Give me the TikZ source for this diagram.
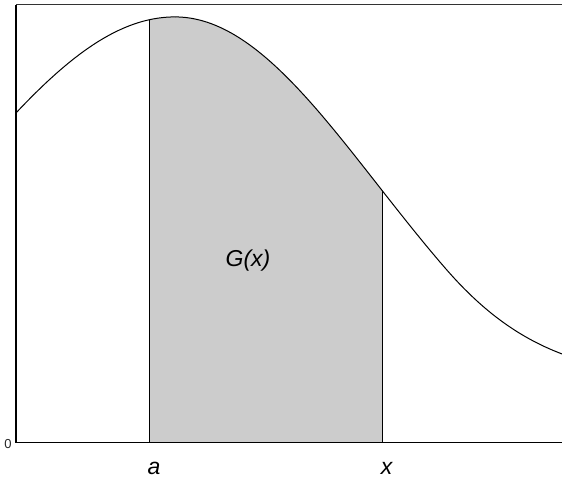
\documentclass[tikz,border=0pt]{standalone}
\usepackage{fontspec}
\setmainfont{Liberation Sans}
\definecolor{areagray}{HTML}{CCCCCC}
\definecolor{topgray}{HTML}{333333}
\tikzset{
  axisline/.style={line width=1.3pt, black},
  leftaxis/.style={line width=2pt, black},
  topline/.style={line width=1.5pt, topgray},
  curveline/.style={line width=1pt, black},
  boundline/.style={line width=1pt, black},
  biglabel/.style={font=\fontsize{23}{27}\selectfont\itshape, inner sep=0pt},
  smalllabel/.style={font=\fontsize{13}{15}\selectfont, inner sep=0pt, text=black!85},
}
\begin{document}
\begin{tikzpicture}[x=1pt,y=-1pt,
  declare function={
    sv(\t)=(\t<175) ? 4.95 : (4.1+0.5*(max(0,(\t-445)/100))^2);
    gy(\t)=443-426*exp(-((\t-175)/100)^2/(2*sv(\t)));
  }]
\useasboundingbox (0,0) rectangle (562,479);
% shaded area
\coordinate (abot) at (149,442.7);
\coordinate (xbot) at (382.3,442.7);
\coordinate (atop) at (149,{gy(149)});
\coordinate (xtop) at (382.3,{gy(382.3)});
\fill[areagray] (abot) -- plot[domain=149:382.3, samples=150, variable=\t] (\t,{gy(\t)}) -- (xbot) -- cycle;
% curve
\draw[curveline] plot[domain=16:562, samples=350, variable=\t] (\t,{gy(\t)});
% bounds
\draw[boundline] (abot) -- (atop);
\draw[boundline] (xbot) -- (xtop);
% frame
\coordinate (o) at (16,442.7);
\coordinate (tl) at (16,4.7);
\coordinate (tr) at (562,4.7);
\coordinate (br) at (562,442.7);
\draw[topline] (tl) -- (tr);
\draw[axisline] (o) -- (br);
\draw[leftaxis] (o) -- (tl);
% labels
\node[biglabel, anchor=base] (la) at (154,474) {a};
\node[biglabel, anchor=base] (lx) at (386.5,474) {x};
\node[biglabel, anchor=base] (lg) at (248,266.7) {G(x)};
\node[smalllabel, anchor=base] (l0) at (8,448) {0};
\end{tikzpicture}
\end{document}
